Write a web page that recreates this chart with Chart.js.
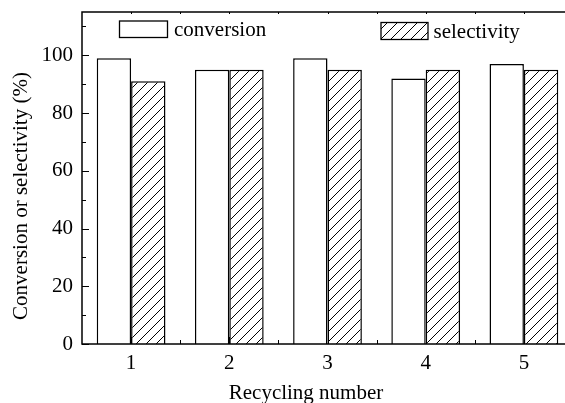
<!DOCTYPE html>
<html><head><meta charset="utf-8">
<script src="https://cdn.jsdelivr.net/npm/chart.js@4/dist/chart.umd.min.js"></script>
<style>html,body{margin:0;padding:0;overflow:hidden;background:#fff;width:565px;height:403px}
canvas{display:block}</style></head>
<body><canvas id="c" width="575" height="403" style="width:575px;height:403px"></canvas>
<script>
const categories = ['1','2','3','4','5'];
const conversion = [99, 95, 99, 92, 97];
const selectivity = [91, 95, 95, 95, 95];
const yTicks = [0, 20, 40, 60, 80, 100];
const yMinorTicks = [10, 30, 50, 70, 90, 110];
const seriesNames = ['conversion', 'selectivity'];
const xTitle = 'Recycling number';
const yTitle = 'Conversion or selectivity (%)';

const FONT = '"Liberation Serif","Times New Roman",serif';
const ctx0 = document.getElementById('c').getContext('2d');

function hatch(){
  const s = 10;
  const c = document.createElement('canvas'); c.width = s; c.height = s;
  const g = c.getContext('2d');
  g.fillStyle = '#fff'; g.fillRect(0,0,s,s);
  g.strokeStyle = '#000'; g.lineWidth = 1;
  g.beginPath();
  g.moveTo(-1, s+1); g.lineTo(s+1, -1);
  g.moveTo(-1, 1); g.lineTo(1, -1);
  g.moveTo(s-1, s+1); g.lineTo(s+1, s-1);
  g.stroke();
  return ctx0.createPattern(c, 'repeat');
}
const hatchPattern = hatch();

const framePlugin = {
  id: 'frame',
  afterDatasetsDraw(chart){
    const {ctx, chartArea:a, scales:{x, y}} = chart;
    ctx.save();
    ctx.strokeStyle = '#000';
    ctx.lineWidth = 1.5;
    ctx.strokeRect(a.left, a.top, a.right - a.left, a.bottom - a.top);
    ctx.lineWidth = 1;
    ctx.beginPath();
    yTicks.forEach(v => { const p = Math.round(y.getPixelForValue(v)) + 0.5; ctx.moveTo(a.left, p); ctx.lineTo(a.left + 7, p); });
    yMinorTicks.forEach(v => { const p = Math.round(y.getPixelForValue(v)) + 0.5; ctx.moveTo(a.left, p); ctx.lineTo(a.left + 4, p); });
    categories.forEach((c, i) => {
      const p = Math.round(x.getPixelForValue(i)) + 0.5;
      ctx.moveTo(p, a.bottom); ctx.lineTo(p, a.bottom - 7);
      ctx.moveTo(p, a.top); ctx.lineTo(p, a.top + 2);
      if (i < categories.length - 1) {
        const m = Math.round((x.getPixelForValue(i) + x.getPixelForValue(i+1)) / 2) + 0.5;
        ctx.moveTo(m, a.bottom); ctx.lineTo(m, a.bottom - 4);
        ctx.moveTo(m, a.top); ctx.lineTo(m, a.top + 2);
      }
    });
    ctx.stroke();
    const ds = chart.data.datasets;
    ctx.lineWidth = 1.3;
    ctx.fillStyle = ds[0].backgroundColor;
    ctx.fillRect(119.5, 21, 48, 16.5);
    ctx.strokeRect(119.5, 21, 48, 16.5);
    ctx.fillStyle = ds[1].backgroundColor;
    ctx.fillRect(381, 22.5, 47, 17);
    ctx.strokeRect(381, 22.5, 47, 17);
    ctx.fillStyle = '#000';
    ctx.font = '21px ' + FONT;
    ctx.textAlign = 'left'; ctx.textBaseline = 'alphabetic';
    ctx.fillText(ds[0].label, 174, 36);
    ctx.fillText(ds[1].label, 433.5, 38);
    ctx.textAlign = 'center';
    ctx.fillText(xTitle, 306, 399);
    ctx.translate(26.5, 196);
    ctx.rotate(-Math.PI/2);
    ctx.fillText(yTitle, 0, 0);
    ctx.restore();
  }
};

new Chart(document.getElementById('c'), {
  type: 'bar',
  data: {
    labels: categories,
    datasets: [
      { label: seriesNames[0], data: conversion, backgroundColor: '#ffffff', borderColor: '#000', borderWidth: 1.5, categoryPercentage: 0.7, barPercentage: 1.0 },
      { label: seriesNames[1], data: selectivity, backgroundColor: hatchPattern, borderColor: '#000', borderWidth: 1.5, categoryPercentage: 0.7, barPercentage: 1.0 }
    ]
  },
  options: {
    responsive: false,
    animation: false,
    layout: { padding: { top: 12, right: 2, left: 0, bottom: 0 } },
    plugins: { legend: { display: false }, tooltip: { enabled: false } },
    scales: {
      x: {
        type: 'category', offset: true,
        grid: { display: false, drawTicks: false }, border: { display: false },
        ticks: { color: '#000', font: { family: FONT, size: 21 }, padding: 7, maxRotation: 0 },
        afterFit(s){ s.height = 59; s.paddingLeft = 0; s.paddingRight = 0; }
      },
      y: {
        min: 0, max: 115,
        grid: { display: false, drawTicks: false }, border: { display: false },
        ticks: { color: '#000', font: { family: FONT, size: 21 }, padding: 9 },
        afterBuildTicks(s){ s.ticks = yTicks.map(v => ({ value: v })); },
        afterFit(s){ s.width = 82; s.paddingTop = 0; s.paddingBottom = 0; }
      }
    }
  },
  plugins: [framePlugin]
});
</script>
</body></html>
